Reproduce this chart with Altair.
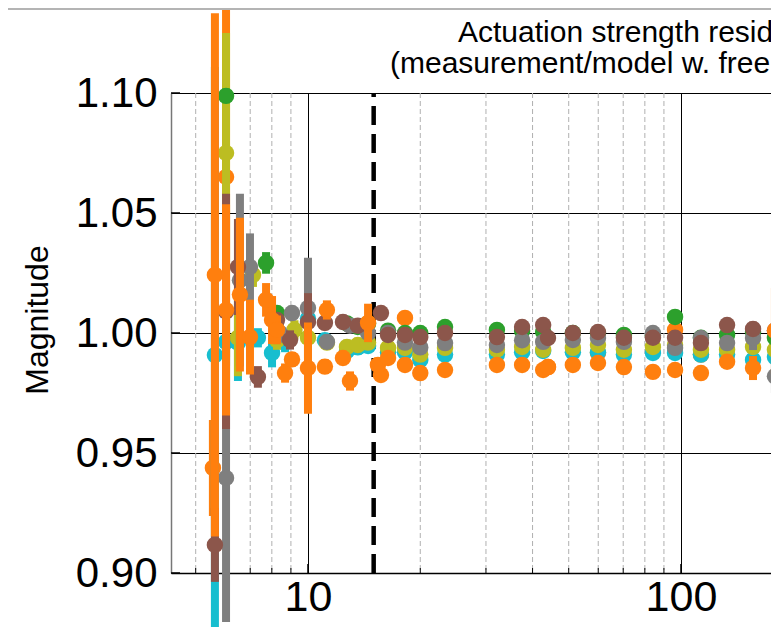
import altair as alt
import pandas as pd

# ---------------- data ----------------
F_MID = [14.49, 16.39, 18.2, 20.0, 23.3, 32.1, 37.5, 42.7, 51.3, 59.9, 70.3,
         84.1, 96.4, 113.1, 132.9, 156.0, 178.6]

# series drawn first (orange, underneath the others)
ORA_A_F = [5.56, 6.03, 15.69, 18.2, 44.0, 59.9, 96.4, 113.1]
ORA_A_V = [0.9438, 1.065, 0.9825, 1.0063, 0.9858, 0.9917, 1.0013, 0.991]
ORA_A_E = [0.02, 0.075, 0.002, 0.002, 0.002, 0.002, 0.002, 0.002]

CYAN_F = [5.63, 6.03, 6.49, 7.34, 8.01, 8.68, 10.0, 11.1, 12.72, 13.6] + F_MID
CYAN_V = [0.9908, 0.9963, 0.996, 0.998, 0.9917, 0.996, 1.006, 0.997, 0.9925, 0.994,
          0.9946, 0.992, 0.992, 0.9888, 0.991, 0.991, 0.992, 0.9925, 0.992, 0.992,
          0.991, 0.9917, 0.9917, 0.991, 0.991, 0.9888, 0.990]
CYAN_E = [0.12, 0.01, 0.016, 0.004, 0.006, 0.004, 0.005, 0.003, 0.003, 0.003,
          0.001, 0.001, 0.001, 0.001, 0.001, 0.001, 0.001, 0.001, 0.001, 0.001,
          0.001, 0.001, 0.001, 0.001, 0.001, 0.003, 0.002]

OLIVE_F = [6.03, 6.49, 7.12, 8.26, 9.2, 10.0, 11.24, 12.72, 13.6] + F_MID
OLIVE_V = [1.075, 0.998, 1.0242, 0.997, 1.0013, 0.998, 0.996, 0.9942, 0.995,
           0.996, 0.9938, 0.9938, 0.991, 0.9938, 0.993, 0.9942, 0.993, 0.9938,
           0.995, 0.993, 0.9942, 0.995, 0.993, 0.993, 0.9942, 0.993]
OLIVE_E = [0.05, 0.016, 0.005, 0.004, 0.004, 0.008, 0.003, 0.003, 0.003,
           0.001, 0.001, 0.001, 0.001, 0.001, 0.001, 0.001, 0.001, 0.001,
           0.001, 0.001, 0.001, 0.001, 0.001, 0.001, 0.002, 0.002]

GREEN_F = [6.03, 7.72, 8.26, 12.72, 13.6] + F_MID
GREEN_V = [1.0988, 1.0292, 1.0083, 1.004, 1.0025,
           1.004, 1.001, 1.0, 1.0, 1.0025, 1.0013, 1.0008, 1.0004, 1.0, 1.0,
           0.9992, 0.999, 1.0067, 0.998, 0.9992, 1.0004, 0.998]
GREEN_E = [0.003, 0.0045, 0.003, 0.002, 0.002,
           0.001, 0.001, 0.001, 0.001, 0.001, 0.001, 0.001, 0.001, 0.001, 0.001,
           0.001, 0.001, 0.001, 0.001, 0.001, 0.003, 0.002]

GRAY_F = [6.03, 6.57, 6.99, 8.41, 9.06, 10.0, 11.24, 12.96] + F_MID
GRAY_V = [0.9396, 1.022, 1.0275, 1.0, 1.0083, 1.0104, 0.9963, 1.003,
          1.0, 1.0, 0.996, 0.994, 0.9958, 0.995, 0.997, 0.9963, 0.9971, 0.9979,
          0.9963, 1.0, 0.9938, 0.9979, 0.9958, 0.9979, 0.982]
GRAY_E = [0.06, 0.036, 0.014, 0.004, 0.003, 0.021, 0.003, 0.003,
          0.001, 0.001, 0.001, 0.001, 0.001, 0.001, 0.001, 0.001, 0.001, 0.001,
          0.001, 0.001, 0.001, 0.001, 0.001, 0.005, 0.007]

BROWN_F = [5.63, 6.03, 6.49, 7.34, 8.26, 8.95, 10.0, 11.1, 12.41, 13.6,
           15.69, 16.39, 18.2, 20.0, 23.3, 32.1, 37.5, 42.7, 44.0, 51.3, 59.9,
           70.3, 84.1, 96.4, 113.1, 132.9, 156.0, 178.6]
BROWN_V = [0.9117, 1.009, 1.0275, 0.9817, 1.0054, 0.9971, 1.0046, 1.0042, 1.0046, 1.003,
           1.0083, 0.9992, 0.9992, 0.9983, 1.0, 0.9983, 1.0025, 1.0033, 0.9979, 1.0,
           1.0004, 0.998, 0.998, 0.998, 0.9958, 1.0033, 1.0017, 1.001]
BROWN_E = [0.0154, 0.049, 0.02, 0.0045, 0.003, 0.004, 0.012, 0.003, 0.003, 0.002,
           0.001, 0.001, 0.001, 0.001, 0.001, 0.001, 0.001, 0.001, 0.001, 0.001,
           0.001, 0.001, 0.001, 0.001, 0.001, 0.001, 0.003, 0.002]

ORANGE_F = [5.63, 6.03, 6.57, 6.99, 7.72, 8.01, 8.26, 8.68, 9.06, 10.0, 11.1,
            11.24, 12.41, 12.96, 14.49, 15.4,
            16.39, 18.2, 20.0, 23.3, 32.1, 37.5, 42.7, 44.0, 51.3, 59.9, 70.3,
            84.1, 96.4, 113.1, 132.9, 156.0, 178.6]
ORANGE_V = [1.0242, 1.0096, 1.016, 0.9983, 1.0138, 1.0054, 1.0013, 0.9833, 0.989,
            0.9854, 0.986, 1.0096, 0.9896, 0.98, 1.0042, 0.9867,
            0.9896, 0.9867, 0.9833, 0.9846, 0.9867, 0.9867, 0.9846, 0.9858, 0.9867,
            0.9875, 0.9858, 0.9838, 0.9846, 0.9833, 0.988, 0.9854, 1.001]
ORANGE_E = [0.109, 0.044, 0.032, 0.0156, 0.007, 0.01, 0.006, 0.004, 0.003,
            0.019, 0.003, 0.004, 0.003, 0.004, 0.008, 0.003,
            0.001, 0.001, 0.001, 0.001, 0.001, 0.001, 0.001, 0.001, 0.001,
            0.001, 0.001, 0.001, 0.001, 0.001, 0.001, 0.005, 0.018]

SERIES = [
    ("#ff7f0e", ORA_A_F, ORA_A_V, ORA_A_E),
    ("#17becf", CYAN_F, CYAN_V, CYAN_E),
    ("#bcbd22", OLIVE_F, OLIVE_V, OLIVE_E),
    ("#2ca02c", GREEN_F, GREEN_V, GREEN_E),
    ("#7f7f7f", GRAY_F, GRAY_V, GRAY_E),
    ("#8c564b", BROWN_F, BROWN_V, BROWN_E),
    ("#ff7f0e", ORANGE_F, ORANGE_V, ORANGE_E),
]

X_MAJOR = [10, 100]
X_MINOR = [5, 6, 7, 8, 9, 20, 30, 40, 50, 60, 70, 80, 90]
Y_TICKS = [0.90, 0.95, 1.00, 1.05, 1.10]
CUTOFF = [15.0]
TITLE1 = "Actuation strength residual"
TITLE2 = "(measurement/model w. free params)"
YLABEL = "Magnitude"

# ---------------- layout ----------------
W, H = 600, 480
FONT = "Liberation Sans"
xs = alt.Scale(type="log", domain=[4.293, 174.3], nice=False)
ys = alt.Scale(domain=[0.90, 1.10], nice=False, zero=False)

x_axis = alt.Axis(values=X_MAJOR, format="d", title=None, grid=True,
                  gridColor="black", gridWidth=1, ticks=False, domain=True,
                  domainColor="black", domainWidth=1.5, labelFontSize=43,
                  labelFont=FONT, labelColor="black", labelPadding=3,
                  labelFlush=False, labelOverlap=False)
y_axis = alt.Axis(values=Y_TICKS, format=".2f", title=None, grid=True,
                  gridColor="black", gridWidth=1, ticks=False, domain=True,
                  domainColor="#777777", domainWidth=1.5, labelFontSize=42,
                  labelFont=FONT, labelColor="black", labelPadding=14,
                  labelFlush=False, labelOverlap=False)

layers = []

# minor dashed grid
layers.append(
    alt.Chart(pd.DataFrame({"f": X_MINOR})).mark_rule(
        color="#b0b0b0", strokeWidth=1, strokeDash=[5, 3]
    ).encode(x=alt.X("f:Q", scale=xs, axis=x_axis),
             y=alt.value(0), y2=alt.value(H))
)
# inward ticks
layers.append(
    alt.Chart(pd.DataFrame({"v": Y_TICKS})).mark_rule(color="black", strokeWidth=1.5)
    .encode(y=alt.Y("v:Q", scale=ys, axis=y_axis), x=alt.value(0), x2=alt.value(9))
)
layers.append(
    alt.Chart(pd.DataFrame({"f": X_MAJOR})).mark_rule(color="black", strokeWidth=1.5)
    .encode(x=alt.X("f:Q", scale=xs, axis=x_axis), y=alt.value(H), y2=alt.value(H - 9))
)
layers.append(
    alt.Chart(pd.DataFrame({"f": X_MINOR})).mark_rule(color="black", strokeWidth=1)
    .encode(x=alt.X("f:Q", scale=xs, axis=x_axis), y=alt.value(H), y2=alt.value(H - 5))
)
# vertical dashed cutoff line
layers.append(
    alt.Chart(pd.DataFrame({"f": CUTOFF})).mark_rule(
        color="black", strokeWidth=4.5, strokeDash=[19, 9]
    ).encode(x=alt.X("f:Q", scale=xs, axis=x_axis), y=alt.value(H), y2=alt.value(0))
)

# measurement series: error bars then markers
for color, fs, vs, es in SERIES:
    df = pd.DataFrame({"f": fs, "v": vs, "e": es})
    df["lo"] = df["v"] - df["e"]
    df["hi"] = df["v"] + df["e"]
    layers.append(
        alt.Chart(df).mark_rule(color=color, strokeWidth=8).encode(
            x=alt.X("f:Q", scale=xs, axis=x_axis),
            y=alt.Y("lo:Q", scale=ys, axis=y_axis),
            y2="hi:Q",
        )
    )
    layers.append(
        alt.Chart(df).mark_circle(color=color, size=270, opacity=1).encode(
            x=alt.X("f:Q", scale=xs, axis=x_axis),
            y=alt.Y("v:Q", scale=ys, axis=y_axis),
        )
    )

# decoration: top separator line, titles, y label
one = pd.DataFrame({"k": [0]})
layers.append(
    alt.Chart(one).mark_rule(color="#b4b4b4", strokeWidth=2).encode(
        x=alt.value(-163), x2=alt.value(W), y=alt.value(-84))
)
layers.append(
    alt.Chart(one).mark_text(font=FONT, fontSize=30, align="left",
                             baseline="alphabetic", color="black")
    .encode(x=alt.value(287), y=alt.value(-51), text=alt.value(TITLE1))
)
layers.append(
    alt.Chart(one).mark_text(font=FONT, fontSize=30, align="left",
                             baseline="alphabetic", color="black")
    .encode(x=alt.value(219), y=alt.value(-20), text=alt.value(TITLE2))
)
layers.append(
    alt.Chart(one).mark_text(font=FONT, fontSize=32, align="center",
                             baseline="middle", angle=270, color="black")
    .encode(x=alt.value(-133), y=alt.value(227), text=alt.value(YLABEL))
)

chart = alt.layer(*layers).properties(
    width=W, height=H,
    autosize=alt.AutoSizeParams(type="none"),
    padding={"left": 163, "top": 85, "right": 0, "bottom": 54},
).configure_view(stroke=None)

chart.save("out.html", embed_options={"renderer": "svg", "actions": False})
